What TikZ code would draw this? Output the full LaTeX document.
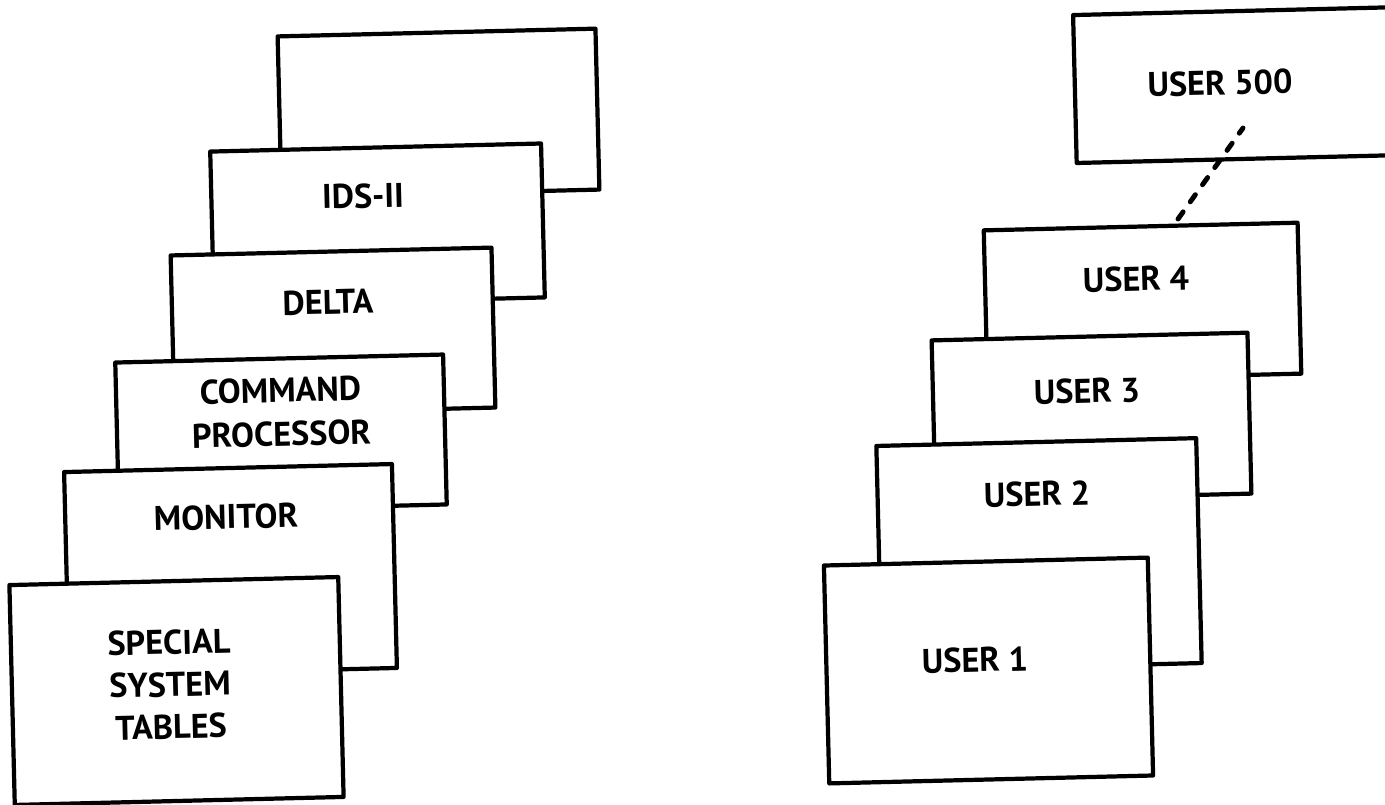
\documentclass[tikz,border=0pt]{standalone}
\usepackage{fontspec}
\setmainfont{PT Sans}
\begin{document}
\begin{tikzpicture}[x=0.02cm,y=-0.02cm]
\tikzset{
  card/.style={draw=black, fill=white, line width=2.4pt, rotate=1.4, inner sep=0pt, outer sep=0pt, line join=round},
  lbl/.style={rotate=1.4, font=\bfseries\fontsize{19.5}{25}\selectfont, align=center, inner sep=0pt},
  dots/.style={line width=2.8pt, line cap=round, dash pattern=on 5pt off 7pt}
}
\useasboundingbox (0,0) rectangle (1385,804);
\clip (0,0) rectangle (1385,804);
% left stack, back to front
\node[card, minimum width=6.36cm, minimum height=3.22cm] (blank) at (438.5,113) {};
\node[card, minimum width=6.62cm, minimum height=3.08cm] (ids) at (377.5,224.5) {};
\node[card, minimum width=6.42cm, minimum height=3.2cm] (delta) at (333,331.5) {};
\node[card, minimum width=6.56cm, minimum height=3.0cm] (cmd) at (281,433.5) {};
\node[card, minimum width=6.56cm, minimum height=4.08cm] (mon) at (230.5,570) {};
\node[card, minimum width=6.58cm, minimum height=4.4cm] (sst) at (176.5,691) {};
\node[lbl] (idsl) at (363,196) {IDS-II};
\node[lbl] (deltal) at (328,302) {DELTA};
\node[lbl] (cmdl) at (281,412) {COMMAND\\PROCESSOR};
\node[lbl] (monl) at (226,517) {MONITOR};
\node[lbl, font=\bfseries\fontsize{19.5}{24}\selectfont] (sstl) at (170,684.5) {SPECIAL\\SYSTEM\\TABLES};
% right stack, back to front
\node[card, minimum width=6.44cm, minimum height=2.96cm] (u500) at (1235.8,85.1) {};
\node[card, minimum width=6.28cm, minimum height=3.02cm] (u4) at (1142.5,302) {};
\node[card, minimum width=6.32cm, minimum height=3.22cm] (u3) at (1091.5,417) {};
\node[card, minimum width=6.4cm, minimum height=4.5cm] (u2) at (1039,554.5) {};
\node[card, minimum width=6.48cm, minimum height=4.36cm] (u1) at (988.5,670.5) {};
\node[lbl] (u500l) at (1220,83) {USER 500};
\node[lbl] (u4l) at (1136,279) {USER 4};
\node[lbl] (u3l) at (1087,391) {USER 3};
\node[lbl] (u2l) at (1037,494) {USER 2};
\node[lbl] (u1l) at (975,660) {USER 1};
% dashed link from USER 4 up to USER 500
\coordinate (d1) at (1178,219);
\coordinate (d2) at (1243,128);
\draw[dots] (d1) -- (d2);
\end{tikzpicture}
\end{document}
